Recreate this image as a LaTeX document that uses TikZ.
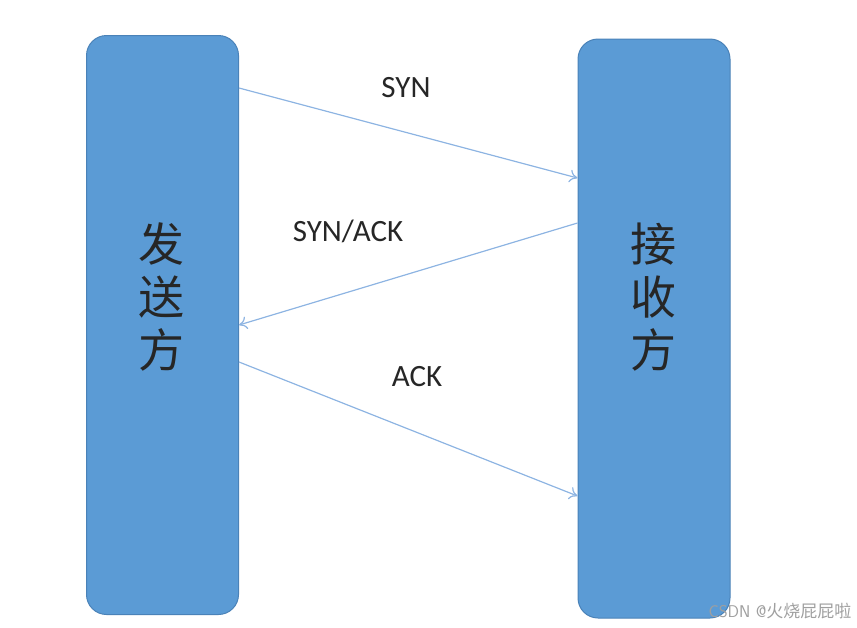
\documentclass[tikz,border=0pt]{standalone}
\usepackage{fontspec}
\setmainfont{Carlito}
\newfontfamily\cjk{Noto Sans CJK SC}
\usetikzlibrary{arrows.meta}
\definecolor{boxfill}{HTML}{5B9BD5}
\definecolor{boxline}{HTML}{4A82B8}
\definecolor{arrcol}{HTML}{8DB4E2}
\definecolor{txt}{HTML}{262626}
\tikzset{
  party/.style={draw=boxline, fill=boxfill, line width=1pt, rounded corners=20pt,
    minimum width=152pt, minimum height=579pt, inner sep=0pt},
  partylabel/.style={font=\cjk\fontsize{46}{52}\selectfont, text=black!85, align=center},
  msg/.style={draw=arrcol, line width=1.2pt, -{To[length=8pt,width=13pt]}},
  msglabel/.style={font=\fontsize{31}{34}\selectfont, text=txt},
  wm/.style={font=\fontsize{17}{19}\selectfont\sffamily, text=gray!75}
}
\begin{document}
\begin{tikzpicture}[x=1pt,y=-1pt]
\useasboundingbox (0,0) rectangle (857,627);
\node[party] (sender) at (162.5,325) {};
\node[party] (receiver) at (654,328.5) {};
\node[partylabel] (sl) at (161,297) {发\\[1pt]送\\[1pt]方};
\node[partylabel] (rl) at (653,297) {接\\[1pt]收\\[1pt]方};
\draw[msg] (sender.east |- 0,88) -- (receiver.west |- 0,178);
\draw[msg] (receiver.west |- 0,223) -- (sender.east |- 0,325);
\draw[msg] (sender.east |- 0,362) -- (receiver.west |- 0,496);
\node[msglabel] (l1) at (406,88) {SYN};
\node[msglabel] (l2) at (348,231) {SYN/ACK};
\node[msglabel] (l3) at (417,377) {ACK};
\node[wm, anchor=east] (w) at (855,611) {CSDN @{\cjk 火烧屁屁啦}};
\end{tikzpicture}
\end{document}
